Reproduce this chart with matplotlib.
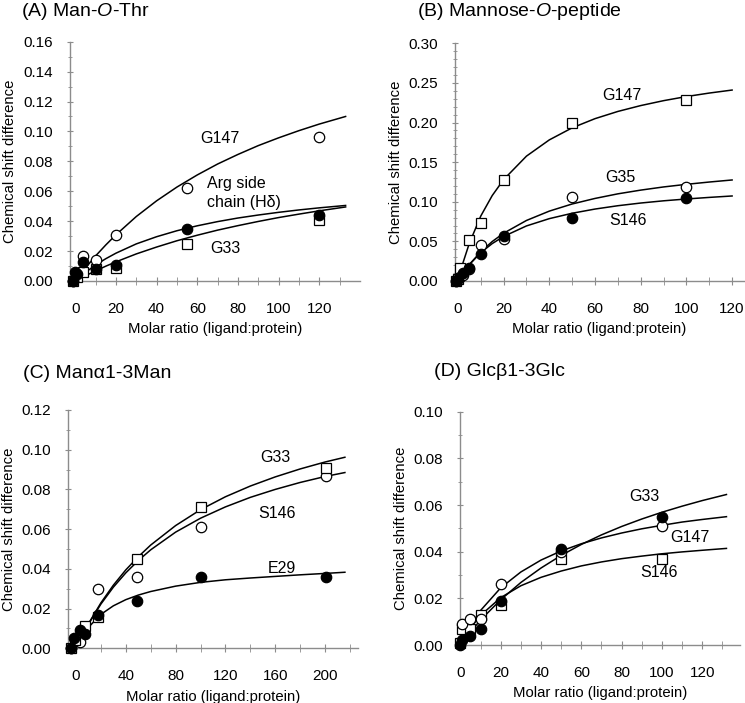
"""Chemical shift titration curves, four ligands (A-D)."""
import matplotlib
matplotlib.use("Agg")
import matplotlib.pyplot as plt
from matplotlib.ticker import FixedLocator, MultipleLocator, FormatStrFormatter

plt.rcParams["font.family"] = ["Liberation Sans", "DejaVu Sans"]
plt.rcParams["mathtext.fontset"] = "custom"
plt.rcParams["mathtext.rm"] = "Liberation Sans"
plt.rcParams["mathtext.it"] = "Liberation Sans:italic"

# ---- (A) Man-O-Thr ----
a_x_g147 = [-1, 4, 10, 20, 55, 120]
a_y_g147 = [0.000, 0.017, 0.014, 0.031, 0.062, 0.096]
a_x_arg = [-1, 0, 1, 4, 10, 20, 55, 120]
a_y_arg = [0.000, 0.006, 0.005, 0.013, 0.008, 0.011, 0.035, 0.044]
a_x_g33 = [-1, 1, 4, 10, 20, 55, 120]
a_y_g33 = [0.000, 0.003, 0.006, 0.008, 0.009, 0.025, 0.041]
a_fit_x = [0, 5, 10, 15, 20, 30, 40, 50, 60, 70, 80, 90, 100, 110, 120, 133]
a_fit_g147 = [0, 0.0087, 0.0168, 0.0241, 0.0309, 0.0431, 0.0536, 0.0628,
              0.0709, 0.0782, 0.0846, 0.0905, 0.0957, 0.1005, 0.1049, 0.1100]
a_fit_arg = [0, 0.0058, 0.0107, 0.0149, 0.0186, 0.0248, 0.0296, 0.0336,
             0.0369, 0.0397, 0.0421, 0.0441, 0.0459, 0.0475, 0.0489, 0.0505]
a_fit_g33 = [0, 0.0035, 0.0068, 0.0099, 0.0128, 0.0181, 0.0227, 0.0269,
             0.0306, 0.0340, 0.0370, 0.0398, 0.0424, 0.0447, 0.0469, 0.0495]

# ---- (B) Mannose-O-peptide ----
b_x_g147 = [-1, 0, 1, 5, 10, 20, 50, 100]
b_y_g147 = [0.000, 0.003, 0.016, 0.052, 0.073, 0.128, 0.200, 0.229]
b_x_g35 = [-1, 1, 2, 5, 10, 20, 50, 100]
b_y_g35 = [0.000, 0.005, 0.008, 0.015, 0.045, 0.053, 0.106, 0.119]
b_x_s146 = [-1, 0, 2, 5, 10, 20, 50, 100]
b_y_s146 = [0.000, 0.003, 0.010, 0.017, 0.034, 0.057, 0.080, 0.105]
b_fit_x = [0, 2, 5, 10, 15, 20, 30, 40, 50, 60, 70, 80, 90, 100, 110, 120]
b_fit_g147 = [0, 0.0211, 0.0477, 0.0820, 0.1078, 0.1280, 0.1576, 0.1781,
              0.1933, 0.2049, 0.2140, 0.2214, 0.2276, 0.2328, 0.2372, 0.2410]
b_fit_g35 = [0, 0.0090, 0.0208, 0.0369, 0.0498, 0.0603, 0.0764, 0.0882,
             0.0972, 0.1042, 0.1100, 0.1147, 0.1187, 0.1220, 0.1249, 0.1275]
b_fit_s146 = [0, 0.0091, 0.0207, 0.0358, 0.0472, 0.0562, 0.0695, 0.0787,
              0.0855, 0.0908, 0.0950, 0.0984, 0.1012, 0.1035, 0.1055, 0.1073]

# ---- (C) Man-alpha1-3Man ----
c_x_g33 = [-4, -1, 7, 18, 49, 100, 201]
c_y_g33 = [0.000, 0.004, 0.011, 0.016, 0.045, 0.071, 0.091]
c_x_s146 = [-4, 3, 18, 49, 100, 201]
c_y_s146 = [0.000, 0.003, 0.030, 0.036, 0.061, 0.087]
c_x_e29 = [-4, -2, 3, 7, 18, 49, 100, 201]
c_y_e29 = [0.000, 0.005, 0.009, 0.007, 0.017, 0.024, 0.036, 0.036]
c_fit_x = [8, 10, 20, 30, 40, 50, 60, 80, 100, 120, 140, 160, 180, 200, 216]
c_fit_g33 = [0.0101, 0.0124, 0.0229, 0.0318, 0.0395, 0.0461, 0.0520, 0.0618,
             0.0698, 0.0763, 0.0817, 0.0863, 0.0903, 0.0938, 0.0962]
c_fit_s146 = [0.0100, 0.0122, 0.0223, 0.0308, 0.0380, 0.0442, 0.0496,
              0.0585, 0.0655, 0.0712, 0.0760, 0.0800, 0.0835, 0.0865, 0.0885]
c_fit_e29 = [0.0089, 0.0106, 0.0171, 0.0214, 0.0245, 0.0268, 0.0286,
             0.0313, 0.0332, 0.0345, 0.0354, 0.0362, 0.0370, 0.0377, 0.0383]

# ---- (D) Glc-beta1-3Glc ----
d_x_g33 = [0, 1, 5, 10, 20, 50, 100]
d_y_g33 = [0.000, 0.002, 0.004, 0.007, 0.019, 0.041, 0.055]
d_x_g147 = [1, 5, 10, 20, 50, 100]
d_y_g147 = [0.009, 0.011, 0.011, 0.026, 0.040, 0.051]
d_x_s146 = [0, 1, 5, 10, 20, 50, 100]
d_y_s146 = [0.001, 0.007, 0.007, 0.013, 0.017, 0.037, 0.037]
d_fit_x = [2, 5, 10, 20, 30, 40, 50, 60, 70, 80, 90, 100, 110, 120, 132]
d_fit_g33 = [0.0023, 0.0056, 0.0107, 0.0194, 0.0268, 0.0330, 0.0384, 0.0431,
             0.0472, 0.0508, 0.0540, 0.0569, 0.0595, 0.0619, 0.0645]
d_fit_g147 = [0.0036, 0.0082, 0.0148, 0.0245, 0.0313, 0.0364, 0.0403,
              0.0434, 0.0459, 0.0480, 0.0498, 0.0513, 0.0527, 0.0538, 0.0550]
d_fit_s146 = [0.0032, 0.0073, 0.0127, 0.0203, 0.0254, 0.0290, 0.0317,
              0.0339, 0.0356, 0.0370, 0.0381, 0.0391, 0.0399, 0.0406, 0.0414]

GREY = "#8c8c8c"
MS = 7.5
LABEL_FS = 11.5


def style(ax, xlim, ylim, xmajor, xminor, ymaj, ymin):
    ax.set_xlim(*xlim)
    ax.set_ylim(*ylim)
    for s in ("top", "right"):
        ax.spines[s].set_visible(False)
    for s in ("left", "bottom"):
        ax.spines[s].set_color(GREY)
        ax.spines[s].set_linewidth(1.0)
    ax.xaxis.set_major_locator(FixedLocator(xmajor))
    ax.xaxis.set_minor_locator(FixedLocator(xminor))
    ax.yaxis.set_major_locator(MultipleLocator(ymaj))
    ax.yaxis.set_minor_locator(MultipleLocator(ymin))
    ax.yaxis.set_major_formatter(FormatStrFormatter("%.2f"))
    ax.tick_params(axis="x", which="both", direction="inout", length=5.5,
                   color=GREY, labelsize=11, pad=12.5)
    ax.tick_params(axis="y", which="major", direction="inout", length=4,
                   color=GREY, labelsize=11, pad=10.5)
    ax.tick_params(axis="y", which="minor", direction="inout", length=3,
                   color=GREY)
    ax.set_xlabel("Molar ratio (ligand:protein)", fontsize=10.7, labelpad=4.5)
    ax.set_ylabel("Chemical shift difference", fontsize=10.7, labelpad=4)


def fit(ax, x, y):
    ax.plot(x, y, color="black", lw=1.1, zorder=2)


def pts(ax, x, y, kind):
    marker = "s" if kind == "square" else "o"
    face = "black" if kind == "filled" else "white"
    ax.plot(x, y, ls="none", marker=marker, ms=MS, mfc=face, mec="black",
            mew=0.9, clip_on=False, zorder=3)


def label(ax, x, y, s):
    ax.text(x, y, s, fontsize=LABEL_FS, va="baseline", ha="left")


fig = plt.figure(figsize=(7.45, 7.03), dpi=100)
axA = fig.add_axes([0.094, 0.6003, 0.389, 0.3404])
axB = fig.add_axes([0.611, 0.6003, 0.387, 0.3381])
axC = fig.add_axes([0.0917, 0.0778, 0.3888, 0.339])
axD = fig.add_axes([0.618, 0.0825, 0.3755, 0.3319])

# (A)
style(axA, (-2.6, 140), (0, 0.16), range(0, 121, 20), range(10, 131, 20),
      0.02, 0.01)
fit(axA, a_fit_x, a_fit_g147)
fit(axA, a_fit_x, a_fit_arg)
fit(axA, a_fit_x, a_fit_g33)
pts(axA, a_x_g33, a_y_g33, "square")
pts(axA, a_x_g147, a_y_g147, "open")
pts(axA, a_x_arg, a_y_arg, "filled")
label(axA, 61.3, 0.0921, "G147")
label(axA, 64.6, 0.0620, "Arg side")
label(axA, 64.6, 0.0497, "chain (H\u03b4)")
label(axA, 66.3, 0.0185, "G33")

# (B)
style(axB, (-1.2, 125), (0, 0.30), range(0, 121, 20), range(10, 111, 20),
      0.05, 0.01)
fit(axB, b_fit_x, b_fit_g147)
fit(axB, b_fit_x, b_fit_g35)
fit(axB, b_fit_x, b_fit_s146)
pts(axB, b_x_g147, b_y_g147, "square")
pts(axB, b_x_g35, b_y_g35, "open")
pts(axB, b_x_s146, b_y_s146, "filled")
label(axB, 63.1, 0.2285, "G147")
label(axB, 64.5, 0.1254, "G35")
label(axB, 66.3, 0.0707, "S146")

# (C)
style(axC, (-6.2, 226.5), (0, 0.12), range(0, 201, 40), range(20, 221, 40),
      0.02, 0.01)
fit(axC, c_fit_x, c_fit_g33)
fit(axC, c_fit_x, c_fit_s146)
fit(axC, c_fit_x, c_fit_e29)
pts(axC, c_x_s146, c_y_s146, "open")
pts(axC, c_x_g33, c_y_g33, "square")
pts(axC, c_x_e29, c_y_e29, "filled")
label(axC, 147.8, 0.0940, "G33")
label(axC, 146.4, 0.0655, "S146")
label(axC, 153.7, 0.0381, "E29")

# (D)
style(axD, (0, 138.8), (0, 0.10), range(0, 121, 20), range(10, 131, 20),
      0.02, 0.01)
fit(axD, d_fit_x, d_fit_g33)
fit(axD, d_fit_x, d_fit_g147)
fit(axD, d_fit_x, d_fit_s146)
pts(axD, d_x_s146, d_y_s146, "square")
pts(axD, d_x_g147, d_y_g147, "open")
pts(axD, d_x_g33, d_y_g33, "filled")
label(axD, 83.6, 0.0619, "G33")
label(axD, 104.3, 0.0443, "G147")
label(axD, 89.4, 0.0293, "S146")

# panel titles (baseline positions in pixels)
fig.text(20.7 / 745, 1 - 16.5 / 703, r"(A) Man-$\mathit{O}$-Thr",
         fontsize=14, va="baseline")
fig.text(417 / 745, 1 - 16.5 / 703, r"(B) Mannose-$\mathit{O}$-peptide",
         fontsize=14, va="baseline")
fig.text(22.7 / 745, 1 - 378.3 / 703, "(C) Man\u03b11-3Man", fontsize=14,
         va="baseline")
fig.text(433.7 / 745, 1 - 376 / 703, "(D) Glc\u03b21-3Glc", fontsize=14,
         va="baseline")

fig.savefig("out.png", dpi=100)
